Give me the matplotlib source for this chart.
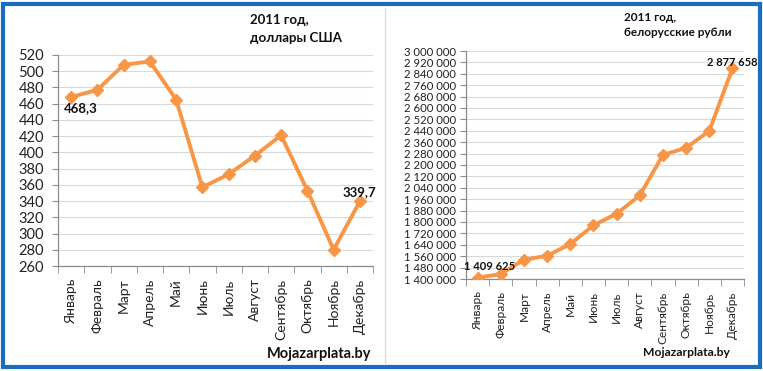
import matplotlib
matplotlib.use("Agg")
import matplotlib.pyplot as plt
from matplotlib.patches import Rectangle
from matplotlib.lines import Line2D
from matplotlib.ticker import FuncFormatter

months = ["Январь", "Февраль", "Март", "Апрель", "Май", "Июнь", "Июль",
          "Август", "Сентябрь", "Октябрь", "Ноябрь", "Декабрь"]
usd = [468.3, 477, 508, 512, 465, 357, 373, 396, 421, 353, 280, 339.7]
byr = [1409625, 1435000, 1535000, 1563000, 1645000, 1776000, 1858000,
       1986000, 2271000, 2320000, 2439000, 2877658]
usd_ticks = list(range(260, 521, 20))
byr_ticks = list(range(1400000, 3000001, 80000))

W, H = 763, 371
plt.rcParams['font.family'] = ['Lato', 'DejaVu Sans']
fig = plt.figure(figsize=(W / 100, H / 100), dpi=100)

ORANGE = '#F79646'
GRID = '#d9d9d9'
AXC = '#8c8c8c'


def frac(x, y):
    return x / W, 1 - y / H


def make_ax(x0, x1, ytop, ybot):
    return fig.add_axes([x0 / W, (H - ybot) / H, (x1 - x0) / W, (ybot - ytop) / H])


def style(ax, n, fs_y, fs_x, ypad):
    ax.set_xlim(-0.5, n - 0.5)
    ax.set_xticks(range(n))
    ax.set_xticklabels(months, rotation=90, fontsize=fs_x, color='#222222')
    ax.set_xticks([i - 0.5 for i in range(n + 1)], minor=True)
    ax.tick_params(axis='x', which='major', length=0, pad=9)
    ax.tick_params(axis='x', which='minor', length=5, color=AXC, direction='out')
    ax.tick_params(axis='y', length=4, color=AXC, labelsize=fs_y, labelcolor='#222222', pad=ypad)
    for s in ['top', 'right']:
        ax.spines[s].set_visible(False)
    for s in ['left', 'bottom']:
        ax.spines[s].set_color(AXC)
        ax.spines[s].set_linewidth(0.9)
    ax.grid(axis='y', color=GRID, linewidth=0.8)
    ax.set_axisbelow(True)


# Left chart
ax1 = make_ax(58, 373, 55, 266)
ax1.plot(range(12), usd, color=ORANGE, lw=2.8, marker='D', ms=6.5,
         markerfacecolor=ORANGE, markeredgecolor=ORANGE, zorder=3)
ax1.set_ylim(260, 520)
ax1.set_yticks(usd_ticks)
style(ax1, 12, 10.5, 10, 6)
ax1.annotate("468,3", (0, usd[0]), xytext=(-5, -8), textcoords='offset points',
             fontsize=9.5, fontweight='bold', color='#111111', va='center')
ax1.annotate("339,7", (11, usd[11]), xytext=(0, 7), textcoords='offset points',
             fontsize=9.5, fontweight='bold', color='#111111', va='center', ha='center')

# Right chart
ax2 = make_ax(466, 744, 51, 279)
ax2.plot(range(12), byr, color=ORANGE, lw=2.8, marker='D', ms=6,
         markerfacecolor=ORANGE, markeredgecolor=ORANGE, zorder=3)
ax2.set_ylim(1400000, 3000000)
ax2.set_yticks(byr_ticks)
ax2.yaxis.set_major_formatter(FuncFormatter(lambda v, p: f"{int(v):,}".replace(",", " ")))
style(ax2, 12, 8.2, 8.6, 3)
ax2.annotate("1 409 625", (0, byr[0]), xytext=(8.5, 8), textcoords='offset points',
             fontsize=8, fontweight='bold', color='#111111', va='center', ha='center')
ax2.annotate("2 877 658", (11, byr[11]), xytext=(0, 4.5), textcoords='offset points',
             fontsize=8, fontweight='bold', color='#111111', va='center', ha='center')

# Titles and watermark
fig.text(*frac(250, 29), "2011 год,\nдоллары США", fontsize=9.5, fontweight='bold',
         color='#111111', va='center', linespacing=1.5)
fig.text(*frac(624, 25), "2011 год,\nбелорусские рубли", fontsize=8.5, fontweight='bold',
         color='#111111', va='center', linespacing=1.4)
fig.text(*frac(267, 354), "Mojazarplata.by", fontsize=10.5, fontweight='bold',
         color='#111111', va='center')
fig.text(*frac(643, 353), "Mojazarplata.by", fontsize=8.7, fontweight='bold',
         color='#111111', va='center')

# Divider and border
fig.add_artist(Line2D([385 / W, 385 / W], [8 / H, 1 - 8 / H], color='#dcdcdc', lw=1))
fig.add_artist(Rectangle((3 / W, 4 / H), (W - 6) / W, (H - 8) / H, fill=False,
                         edgecolor='#1a6cc0', lw=3, transform=fig.transFigure))

fig.savefig("out.png", dpi=100)
